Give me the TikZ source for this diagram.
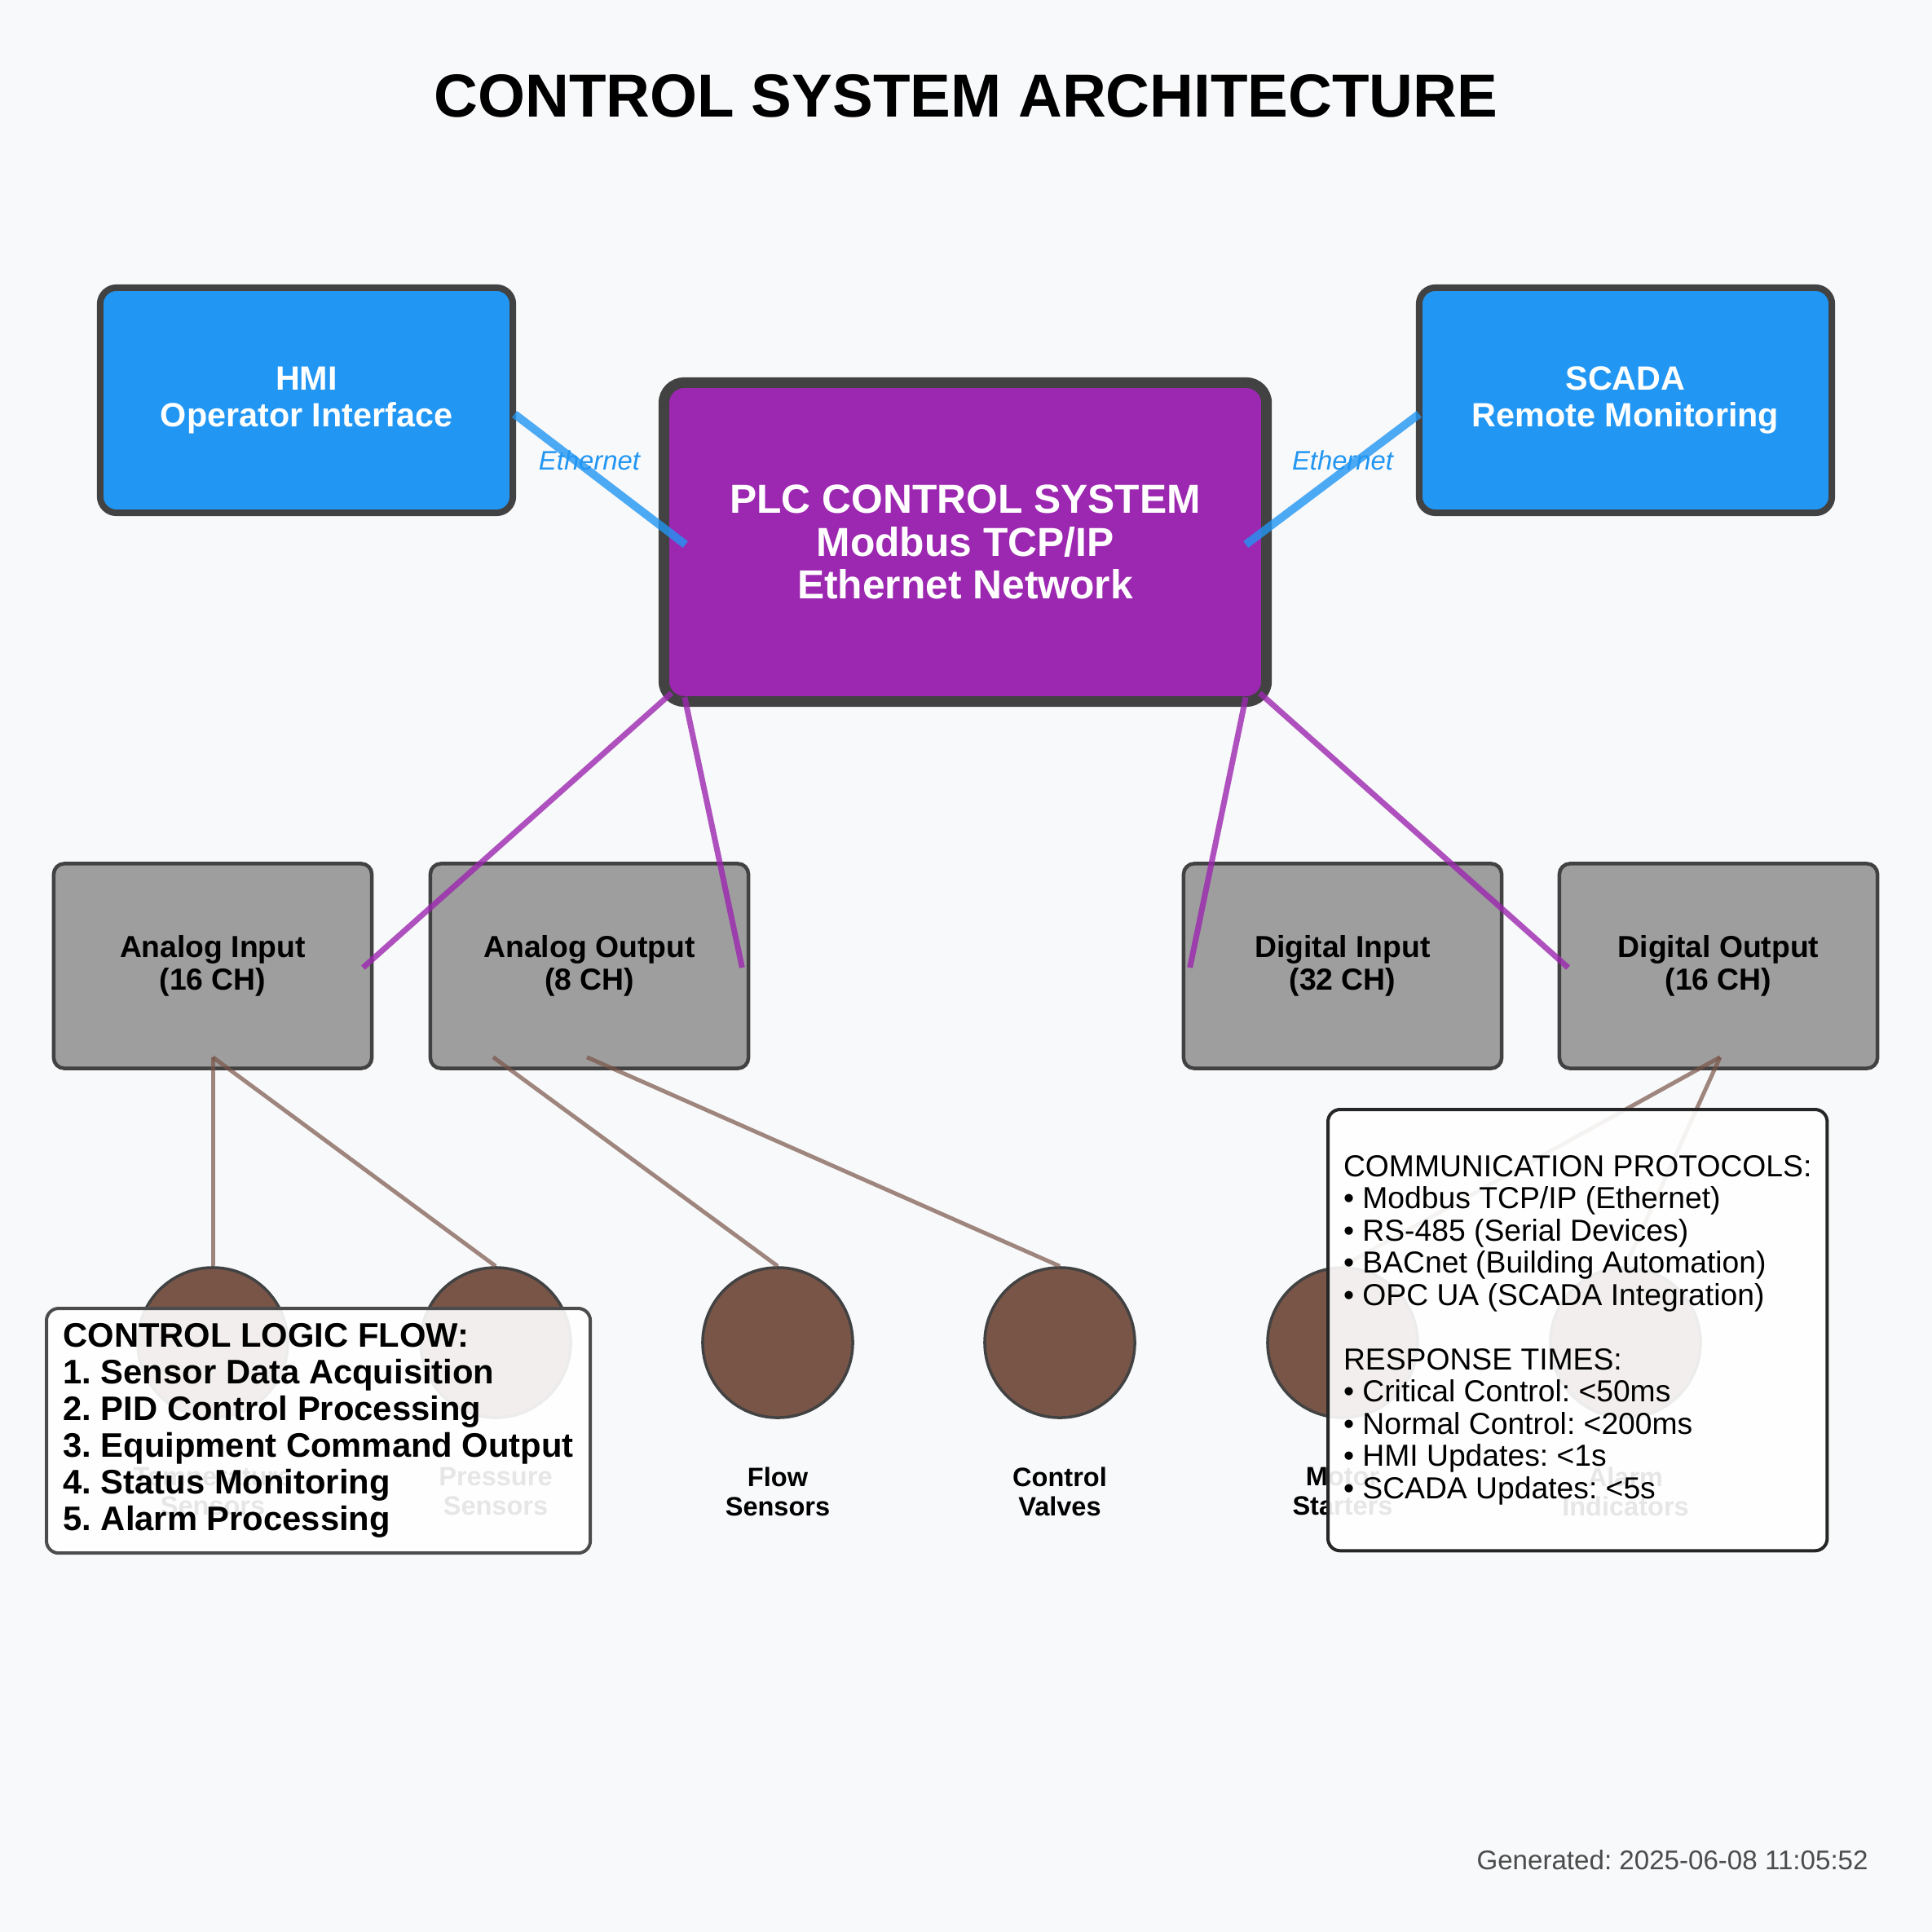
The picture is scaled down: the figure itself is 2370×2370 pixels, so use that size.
\documentclass[tikz,border=0pt]{standalone}
\usepackage{fontspec}
\setmainfont{Liberation Sans}
\usepackage{tikz}
\usetikzlibrary{positioning,calc}
\frenchspacing

\definecolor{bgcol}{HTML}{F8F9FA}
\definecolor{netblue}{HTML}{2196F3}
\definecolor{plcpurple}{HTML}{9C27B0}
\definecolor{modgray}{HTML}{9E9E9E}
\definecolor{devbrown}{HTML}{795548}
\definecolor{edgegray}{HTML}{424242}
\newcommand{\fsz}[2]{\fontsize{#1pt}{#2pt}\selectfont}

\begin{document}
\begin{tikzpicture}[x=0.01cm,y=-0.01cm,
  topbox/.style={draw=edgegray,line width=0.08cm,fill=netblue,rounded corners=0.2cm,
    minimum width=5.06cm,minimum height=2.76cm,text=white,align=center,
    font=\fsz{11.75}{12.8}\bfseries},
  plcbox/.style={draw=edgegray,line width=0.13cm,fill=plcpurple,rounded corners=0.25cm,
    minimum width=7.39cm,minimum height=3.91cm,text=white,align=center,
    font=\fsz{14.14}{14.94}\bfseries},
  iobox/.style={draw=edgegray,line width=0.045cm,fill=modgray,rounded corners=0.13cm,
    minimum width=3.9cm,minimum height=2.51cm,align=center,font=\fsz{10.61}{11.4}\bfseries},
  device/.style={circle,draw=edgegray,line width=0.035cm,fill=devbrown,minimum size=1.84cm,inner sep=0pt},
  devlabel/.style={align=center,font=\fsz{9.25}{10.1}\bfseries},
  ethline/.style={draw=netblue,draw opacity=0.8,line width=0.1cm},
  busline/.style={draw=plcpurple,draw opacity=0.8,line width=0.07cm},
  wireline/.style={draw=devbrown,draw opacity=0.7,line width=0.05cm},
  netlabel/.style={text=netblue,font=\fsz{9.33}{10}\itshape},
  infobox/.style={fill=white,fill opacity=0.9,text opacity=1,rounded corners=0.15cm,
    line width=0.04cm,anchor=north west,align=left,inner ysep=0pt}
]
\fill[bgcol] (0,0) rectangle (2370,2370);
\useasboundingbox (0,0) rectangle (2370,2370);

\node[font=\fsz{21.2}{24}\bfseries] (title) at (1185,118) {CONTROL SYSTEM ARCHITECTURE};

\node[topbox] (hmi) at (376,491) {HMI\\Operator Interface};
\node[topbox] (scada) at (1994,491) {SCADA\\Remote Monitoring};
\node[plcbox] (plc) at (1184,665) {PLC CONTROL SYSTEM\\Modbus TCP/IP\\Ethernet Network};

\foreach \nm/\x/\txt in {aIn/261/{Analog Input\\(16 CH)},aOut/723/{Analog Output\\(8 CH)},
    dIn/1647/{Digital Input\\(32 CH)},dOut/2108/{Digital Output\\(16 CH)}}
  \node[iobox] (\nm) at (\x,1185) {\txt};

\foreach \nm/\x/\txt in {temp/261/{Temperature\\Sensors},press/608/{Pressure\\Sensors},
    flow/954/{Flow\\Sensors},valve/1300/{Control\\Valves},
    motor/1647/{Motor\\Starters},alarm/1994/{Alarm\\Indicators}}{
  \node[device] (\nm) at (\x,1647) {};
  \node[devlabel,below=0.47cm of \nm] (\nm-lbl) {\txt};
}

\draw[ethline] ($(hmi.east)+(-2,17)$) -- ($(plc.west)+(33,3)$);
\draw[ethline] ($(scada.west)+(4,17)$) -- ($(plc.east)+(-32,3)$);
\node[netlabel] (ethA) at (723,565) {Ethernet};
\node[netlabel] (ethB) at (1647,565) {Ethernet};

\draw[busline] ($(plc.south west)+(16,-17)$) -- ($(aIn.east)+(-13,2)$);
\draw[busline] ($(plc.south west)+(32,-12)$) -- ($(aOut.east)+(-10,2)$);
\draw[busline] ($(plc.south east)+(-32,-12)$) -- ($(dIn.west)+(10,2)$);
\draw[busline] ($(plc.south east)+(-15,-17)$) -- ($(dOut.west)+(13,2)$);

\draw[wireline] ($(aIn.south)+(0,-16)$) -- (temp.north);
\draw[wireline] ($(aIn.south)+(0,-16)$) -- (press.north);
\draw[wireline] ($(aOut.south)+(-118,-16)$) -- (flow.north);
\draw[wireline] ($(aOut.south)+(-3,-16)$) -- (valve.north);
\draw[wireline] ($(dOut.south)+(2,-16)$) -- (motor.north);
\draw[wireline] ($(dOut.south)+(2,-16)$) -- (alarm.north);

\node[infobox,draw=black!70,inner xsep=0.205cm,minimum height=3.0cm,font=\fsz{11.87}{12.8}\bfseries] (logic) at (55,1603)
  {CONTROL LOGIC FLOW:\\1. Sensor Data Acquisition\\2. PID Control Processing\\3. Equipment Command Output\\4. Status Monitoring\\5. Alarm Processing};
\node[infobox,draw=black!85,inner xsep=0.19cm,minimum height=5.41cm,font=\fsz{10.6}{11.24}] (comm) at (1627,1359)
  {COMMUNICATION PROTOCOLS:\\• Modbus TCP/IP (Ethernet)\\• RS-485 (Serial Devices)\\• BACnet (Building Automation)\\• OPC UA (SCADA Integration)\\[11.24pt]RESPONSE TIMES:\\• Critical Control: <50ms\\• Normal Control: <200ms\\• HMI Updates: <1s\\• SCADA Updates: <5s};

\node[anchor=east,text=black!70,font=\fsz{9.42}{11}] (stamp) at (2304,2282) {Generated: 2025-06-08 11:05:52};
\end{tikzpicture}
\end{document}
